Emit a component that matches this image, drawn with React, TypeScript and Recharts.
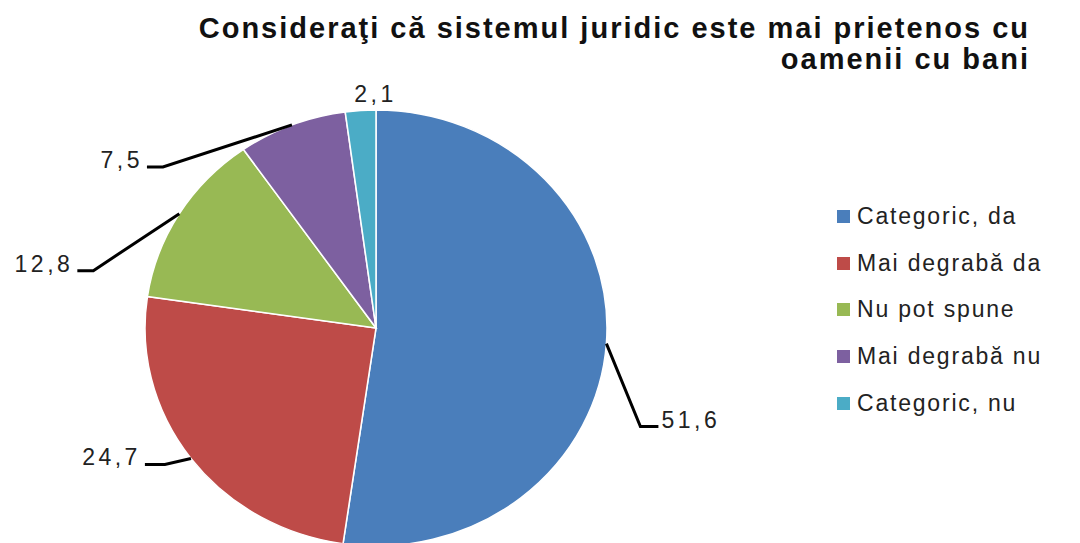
import React from 'react';
import { PieChart, Pie, Cell, Legend } from 'recharts';

const categories = ['Categoric, da', 'Mai degrabă da', 'Nu pot spune', 'Mai degrabă nu', 'Categoric, nu'];
const values = [51.6, 24.7, 12.8, 7.5, 2.1];
const valueLabels = ['51,6', '24,7', '12,8', '7,5', '2,1'];
const colors = ['#4A7EBB', '#BE4B48', '#98B954', '#7D60A0', '#4BACC6'];
const titleLines = ['Consideraţi că sistemul juridic este mai prietenos cu', 'oamenii cu bani'];

// pie geometry (the original pie is slightly elliptical)
const CX = 376;
const CY = 328;
const R = 224;
const SX = 231 / 224;
const SY = 218 / 224;

// leader-line layout: elbow offset from the slice edge, horizontal tail length
const labelLayout = [
  { dx: 34, dy: 83, tail: 18, line: true },
  { dx: -26, dy: 6, tail: -20, line: true },
  { dx: -86, dy: 57, tail: -16, line: true },
  { dx: -129, dy: 42, tail: -16, line: true },
  { dx: 15, dy: -8, tail: 0, line: false },
];

const data = categories.map((name, i) => ({ name, value: values[i] }));

const RAD = Math.PI / 180;
const FONT = '"Liberation Sans", Arial, sans-serif';

function renderLabel(props: any) {
  const { cx, cy, midAngle, outerRadius, index } = props;
  const ex = cx + outerRadius * SX * Math.cos(-midAngle * RAD);
  const ey = cy + outerRadius * SY * Math.sin(-midAngle * RAD);
  const L = labelLayout[index];
  const text = valueLabels[index];
  const textStyle = { fontFamily: FONT, fontSize: 23, letterSpacing: 3.5, fill: '#222' };
  if (!L.line) {
    return (
      <text x={ex + L.dx} y={ey + L.dy} textAnchor="middle" style={textStyle}>
        {text}
      </text>
    );
  }
  const bx = ex + L.dx;
  const by = ey + L.dy;
  const tx = bx + L.tail;
  const right = L.tail > 0;
  return (
    <g>
      <polyline
        points={`${ex},${ey} ${bx},${by} ${tx},${by}`}
        fill="none"
        stroke="#000"
        strokeWidth={3}
      />
      <text x={tx + (right ? 3 : -4)} y={by + 1} textAnchor={right ? 'start' : 'end'} style={textStyle}>
        {text}
      </text>
    </g>
  );
}

function renderLegend() {
  return (
    <div style={{ fontFamily: FONT }}>
      {categories.map((name, i) => (
        <div key={name} style={{ height: 46.8, display: 'flex', alignItems: 'center' }}>
          <span style={{ width: 13, height: 13, background: colors[i], display: 'inline-block', marginRight: 7 }} />
          <span style={{ fontSize: 23, letterSpacing: 1.8, color: '#222', whiteSpace: 'nowrap' }}>{name}</span>
        </div>
      ))}
    </div>
  );
}

export default function App() {
  return (
    <div style={{ position: 'absolute', left: 0, top: 0, width: 1080, height: 543, background: '#fff', overflow: 'hidden' }}>
      <style>{`.recharts-pie .recharts-sector { transform-origin: ${CX}px ${CY}px; transform: scale(${SX}, ${SY}); }`}</style>
      <PieChart width={1080} height={543} margin={{ top: 0, right: 0, bottom: 0, left: 0 }}>
        <Pie
          data={data}
          dataKey="value"
          nameKey="name"
          cx={CX}
          cy={CY}
          outerRadius={R}
          startAngle={90}
          endAngle={-270}
          stroke="#fff"
          strokeWidth={1.5}
          label={renderLabel}
          labelLine={false}
          isAnimationActive={false}
        >
          {data.map((d, i) => (
            <Cell key={d.name} fill={colors[i]} />
          ))}
        </Pie>
        <Legend content={renderLegend} wrapperStyle={{ position: 'absolute', left: 837, top: 193, width: 240 }} />
      </PieChart>
      <svg width={1080} height={90} style={{ position: 'absolute', left: 0, top: 0, pointerEvents: 'none' }}>
        <text x={1030} y={38} textAnchor="end" style={{ fontFamily: FONT, fontWeight: 'bold', fontSize: 29, letterSpacing: 2, fill: '#111' }}>
          {titleLines[0]}
        </text>
        <text x={1030} y={69} textAnchor="end" style={{ fontFamily: FONT, fontWeight: 'bold', fontSize: 29, letterSpacing: 2, fill: '#111' }}>
          {titleLines[1]}
        </text>
      </svg>
    </div>
  );
}
